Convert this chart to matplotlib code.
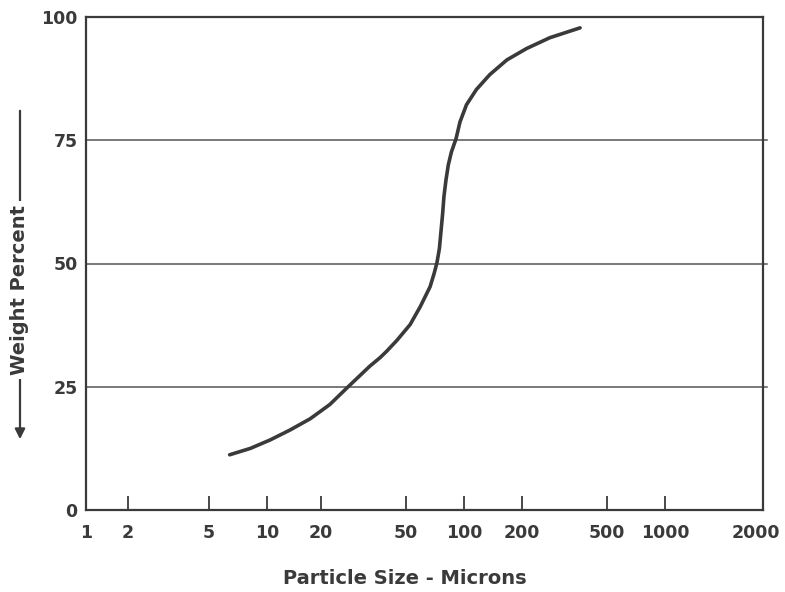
import numpy as np
import matplotlib
matplotlib.use("Agg")
import matplotlib.pyplot as plt
from matplotlib.transforms import ScaledTranslation

# hand drawn log axis: tick values and where they sit (not a perfect log scale)
tick_vals = [1, 2, 5, 10, 20, 50, 100, 200, 500, 1000, 2000]
tick_pos = [86, 128, 209, 267, 321, 406, 464, 522, 607, 665, 763]
tick_labels = ["1", "2", "5", "10", "20", "50", "100", "200", "500", "1000", "2000"]

y_ticks = [0, 25, 50, 75, 100]
grid_y = [25, 50, 75]

# curve
size_um = [6.4, 8.2, 10.4, 13.4, 17.4, 22.0, 26.8, 33.9, 37.8, 40.6, 45.3, 52.5,
           59.2, 66.7, 70.0, 72.4, 74.5, 76.0, 77.5, 78.7, 80.6, 82.9, 86.0, 90.9, 95.3,
           103, 116, 136, 167, 210, 270, 374]
weight_pct = [11.2, 12.5, 14.2, 16.2, 18.5, 21.4, 25.0, 29.2, 30.9, 32.2, 34.4, 37.6,
              41.2, 45.3, 48.0, 50.2, 53.0, 56.6, 60.2, 63.6, 66.9, 70.0, 72.6, 75.3, 78.7,
              82.2, 85.3, 88.3, 91.3, 93.6, 95.8, 97.8]

logv = np.log10(tick_vals)


def fwd(x):
    x = np.clip(np.asarray(x, dtype=float), 1e-9, None)
    return np.interp(np.log10(x), logv, tick_pos)


def inv(p):
    return 10 ** np.interp(p, tick_pos, logv)


ink = "#3a3a3a"
fnt = "DejaVu Sans"

fig = plt.figure(figsize=(7.85, 5.92), dpi=100)
ax = fig.add_axes([86 / 785, 82 / 592, 677 / 785, 493 / 592])
ax.set_xscale("function", functions=(fwd, inv))
ax.set_xlim(1, 2000)
ax.set_ylim(0, 100)

for g in grid_y:
    ax.axhline(g, xmin=0, xmax=1.006, color="#555555", lw=1.1, clip_on=False, zorder=1)

ax.plot(size_um, weight_pct, color=ink, lw=2.6, solid_capstyle="round",
        solid_joinstyle="round", zorder=3)

for s in ax.spines.values():
    s.set_color(ink)
    s.set_linewidth(1.6)

ax.set_xticks(tick_vals)
ax.set_xticklabels(tick_labels)
ax.xaxis.set_minor_locator(matplotlib.ticker.NullLocator())
ax.tick_params(axis="x", direction="in", length=10, width=1.3, color=ink,
               pad=10, labelsize=12.5, labelcolor=ink)
ax.set_yticks(y_ticks)
ax.tick_params(axis="y", length=0, pad=6, labelsize=12.5, labelcolor=ink)
for lab in ax.get_xticklabels() + ax.get_yticklabels():
    lab.set_fontweight("bold")
    lab.set_family(fnt)
# last label is nudged left so it stays inside the figure
last = ax.get_xticklabels()[-1]
last.set_transform(last.get_transform() + ScaledTranslation(-7 / 100, 0, fig.dpi_scale_trans))

fig.text(405 / 785, 1 - 578 / 592, "Particle Size - Microns", ha="center", va="center",
         fontsize=14, fontweight="bold", color=ink, family=fnt)

# y label sits on a long arrow pointing down
fig.add_artist(matplotlib.patches.FancyArrowPatch(
    (20 / 785, 1 - 108 / 592), (20 / 785, 1 - 442 / 592), transform=fig.transFigure,
    arrowstyle="-|>,head_length=6,head_width=3", color=ink, lw=1.6))
fig.text(20 / 785, 1 - 290 / 592, "Weight Percent", rotation=90, ha="center", va="center",
         fontsize=14, fontweight="bold", color=ink, family=fnt,
         bbox=dict(facecolor="white", edgecolor="none", pad=3))

fig.savefig("out.png", dpi=100, facecolor="white")
